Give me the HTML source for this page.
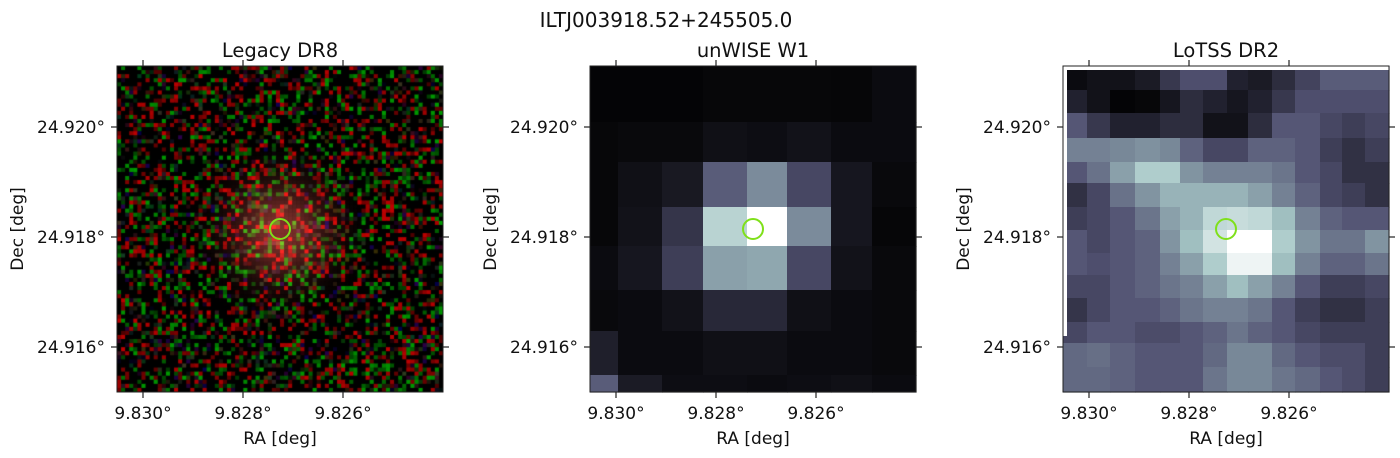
<!DOCTYPE html>
<html><head><meta charset="utf-8"><style>
body{margin:0;background:#fff;width:1400px;height:458px;overflow:hidden;position:relative;font-family:"DejaVu Sans","Liberation Sans",sans-serif}
canvas{position:absolute}
svg{position:absolute;left:0;top:0;font-family:"DejaVu Sans","Liberation Sans",sans-serif}
</style></head><body>
<canvas id="legacy" width="326" height="326" style="left:117px;top:66px"></canvas>
<svg id="fig" width="1400" height="458"></svg>
<script>
// unWISE pixel intensity grid (rows top→bottom, cols left→right)
const unwiseColEdges=[590,618,662,703,747,787,831,872,916];
const unwiseRowEdges=[66,122,162,207,246,290,331,375,392];
const unwiseVals=[
[.02,.02,.02,.03,.03,.03,.025,.05],
[.03,.04,.04,.07,.06,.08,.05,.05],
[.03,.07,.11,.40,.55,.32,.10,.04],
[.03,.08,.24,.80,1.0,.55,.10,.025],
[.05,.10,.28,.62,.64,.32,.08,.04],
[.04,.05,.08,.18,.18,.07,.05,.04],
[.14,.05,.05,.07,.07,.05,.05,.04],
[.40,.12,.06,.06,.05,.06,.07,.05]];
// LoTSS pixel intensity grid
const lotssColEdges=[1063,1087,1110,1135,1160,1180,1203,1227,1248,1272,1295,1320,1342,1365,1389];
const lotssRowEdges=[66,90,113,138,162,183,207,230,253,275,298,322,343,367,392];
const lotssVals=[
[.05,.08,.08,.12,.25,.35,.35,.15,.12,.2,.3,.4,.4,.4],
[.15,.08,.02,.03,.1,.2,.15,.1,.15,.25,.35,.35,.35,.35],
[.38,.25,.15,.15,.2,.2,.08,.08,.2,.38,.38,.32,.28,.32],
[.52,.52,.54,.57,.54,.42,.32,.32,.42,.42,.38,.28,.22,.28],
[.38,.47,.62,.77,.77,.58,.52,.52,.52,.48,.38,.32,.22,.22],
[.22,.32,.47,.58,.68,.68,.68,.68,.62,.52,.42,.32,.28,.22],
[.28,.32,.38,.48,.62,.68,.82,.84,.82,.72,.52,.42,.38,.38],
[.38,.32,.38,.42,.58,.72,.87,1,1,.77,.58,.48,.48,.58],
[.38,.35,.38,.42,.52,.62,.77,.95,.95,.72,.52,.42,.42,.48],
[.32,.32,.38,.42,.48,.52,.62,.72,.62,.52,.38,.28,.28,.32],
[.24,.32,.38,.38,.42,.48,.52,.52,.48,.38,.28,.22,.22,.28],
[.32,.38,.38,.34,.34,.38,.42,.48,.42,.38,.32,.28,.28,.28],
[.44,.46,.42,.38,.38,.38,.44,.54,.54,.44,.38,.34,.34,.28],
[.44,.44,.42,.38,.38,.38,.48,.54,.54,.48,.44,.38,.34,.28]];
const raTicks=["9.830°","9.828°","9.826°"];
const decTicks=["24.920°","24.918°","24.916°"];
const panelTitles=["Legacy DR8","unWISE W1","LoTSS DR2"];
const panelX=[117,590,1063];
const W=326,TOP=66,BOT=392;
function bone(v){
  const interp=(pts)=>{for(let i=1;i<pts.length;i++){if(v<=pts[i][0]){const t=(v-pts[i-1][0])/(pts[i][0]-pts[i-1][0]);return pts[i-1][1]+t*(pts[i][1]-pts[i-1][1]);}}return pts[pts.length-1][1];};
  const r=interp([[0,0],[.746,.652],[1,1]]),g=interp([[0,0],[.365,.319],[.746,.782],[1,1]]),b=interp([[0,0],[.365,.444],[1,1]]);
  return `rgb(${Math.round(r*255)},${Math.round(g*255)},${Math.round(b*255)})`;
}
const NS="http://www.w3.org/2000/svg";
const svg=document.getElementById('fig');
function el(tag,attrs,parent){const e=document.createElementNS(NS,tag);for(const k in attrs)e.setAttribute(k,attrs[k]);(parent||svg).appendChild(e);return e;}
function grid(cols,rows,vals,name){
  const g=el('g',{});
  
  
  for(let r=0;r<vals.length;r++)for(let c=0;c<vals[r].length;c++){
    const rc=el('rect',{x:cols[c],y:rows[r],width:cols[c+1]-cols[c]+0.6,height:rows[r+1]-rows[r]+0.6,fill:bone(vals[r][c])},g);
    
    
  }
}
grid(unwiseColEdges,unwiseRowEdges,unwiseVals,'unwise-image');
grid(lotssColEdges,lotssRowEdges,lotssVals,'lotss-image');
el('path',{d:'M1065,336 L1065,68 L1389,68',stroke:'#fff','stroke-width':4,fill:'none'});
// legacy noise texture
const cv=document.getElementById('legacy').getContext('2d');
let seed=12345;function rnd(){seed=(seed*1103515245+12345)&0x7fffffff;return seed/0x7fffffff;}
cv.fillStyle='#000';cv.fillRect(0,0,326,326);
const px=4.075,N=80;
for(let j=0;j<N;j++)for(let i=0;i<N;i++){
  const cx=i*px+2-163,cy=j*px+2-165;const d=Math.exp(-(cx*cx+cy*cy)/(2*32*32));
  let r=0,g=0,b=0;
  const t=rnd();
  if(t<0.17){r=70+rnd()*120;}else if(t<0.33){g=55+rnd()*100;}else if(t<0.45){r=60*rnd();g=60*rnd();b=35*rnd();}else if(t<0.49){b=80*rnd();r=45*rnd();}
  r+=d*130;g+=d*50;b+=d*45;
  cv.fillStyle=`rgb(${Math.min(255,r|0)},${Math.min(255,g|0)},${Math.min(255,b|0)})`;
  cv.fillRect(i*px,j*px,px+0.5,px+0.5);
}
const st=el('text',{x:666,y:27,'font-size':20,'text-anchor':'middle',fill:'#111'});st.textContent='ILTJ003918.52+245505.0';

const raPos=[26,126,226],decPos=[127,237,347],circlePos=[163,163];
panelX.forEach((x0,p)=>{
  const g=el('g',{});
  
  
  el('rect',{x:x0,y:TOP,width:W,height:BOT-TOP,fill:'none',stroke:'#222','stroke-width':1},g);
  const t=el('text',{x:x0+W/2,y:57,'font-size':19.5,'text-anchor':'middle',fill:'#111'},g);t.textContent=panelTitles[p];
  
  raTicks.forEach((lab,i)=>{const x=x0+raPos[i];
    el('line',{x1:x,x2:x,y1:BOT,y2:BOT+6,stroke:'#222','stroke-width':1.2},g);el('line',{x1:x,x2:x,y1:TOP,y2:TOP-6,stroke:'#222','stroke-width':1.2},g);
    const tt=el('text',{x:x,y:419,'font-size':17,'text-anchor':'middle',fill:'#111'},g);tt.textContent=lab;
    });
  decTicks.forEach((lab,i)=>{const y=decPos[i];
    el('line',{x1:x0,x2:x0-6,y1:y,y2:y,stroke:'#222','stroke-width':1.2},g);el('line',{x1:x0+W,x2:x0+W+6,y1:y,y2:y,stroke:'#222','stroke-width':1.2},g);
    const tt=el('text',{x:x0-12,y:y+6,'font-size':17,'text-anchor':'end',fill:'#111'},g);tt.textContent=lab;
    });
  const xl=el('text',{x:x0+W/2,y:444,'font-size':17,'text-anchor':'middle',fill:'#111'},g);xl.textContent='RA [deg]';
  
  const yl=el('text',{x:0,y:0,'font-size':17,'text-anchor':'middle',fill:'#111',transform:`translate(${x0-94},229) rotate(-90)`},g);yl.textContent='Dec [deg]';
  
  const c=el('circle',{cx:x0+circlePos[0],cy:229,r:10,fill:'none',stroke:'#7fe01a','stroke-width':2},g);
  
});
</script>
</body></html>
